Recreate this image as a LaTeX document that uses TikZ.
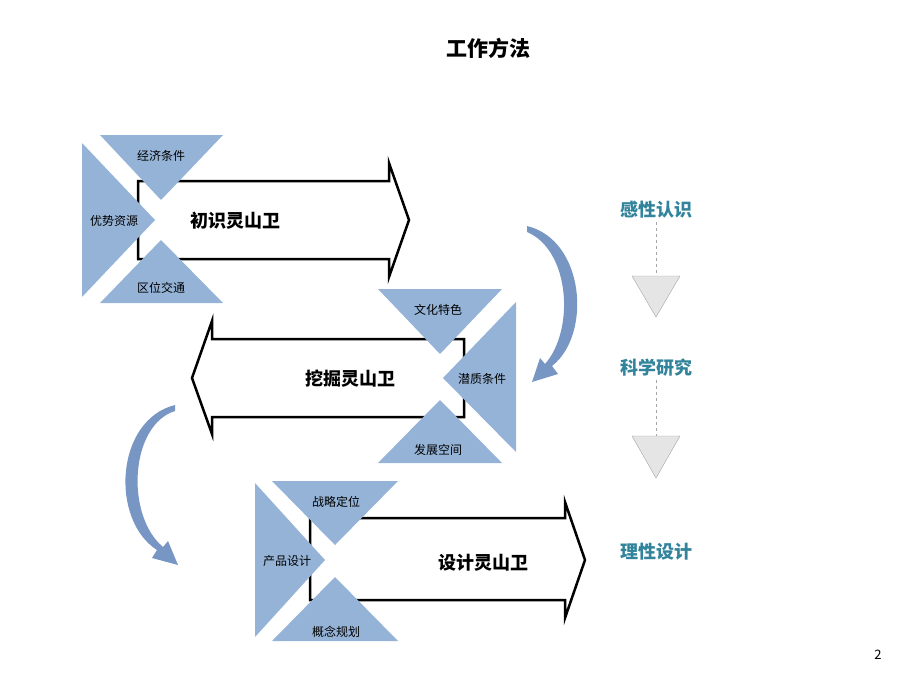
\documentclass[tikz,border=0pt]{standalone}
\usepackage{fontspec}
\setmainfont{Noto Sans CJK SC}
\definecolor{triblue}{RGB}{149,179,215}
\definecolor{tealtxt}{RGB}{49,132,155}
\definecolor{arrblue}{RGB}{120,150,195}
\tikzset{
  tri/.style={fill=triblue},
  fat/.style={draw=black, line width=2.5pt, fill=white, line join=miter},
  small/.style={font=\fontsize{12}{14}\selectfont, inner sep=0pt},
  big/.style={font=\fontsize{18}{21}\selectfont\bfseries},
  stage/.style={font=\fontsize{18}{21}\selectfont\bfseries, text=tealtxt},
  gtri/.style={fill=gray!20, draw=gray!70},
}
\begin{document}
\begin{tikzpicture}[x=1pt, y=-1pt]
    \useasboundingbox (0,0) rectangle (920,690);
    \node[font=\fontsize{21}{24}\selectfont\bfseries] (title) at (488,48) {工作方法};

    % first block
    \draw[fat] (138,181) -- (389,181) -- (389,163) -- (409,220) -- (389,277) -- (389,259) -- (138,259) -- cycle;
    \fill[tri] (82,143) -- (82,297) -- (155,220) -- cycle;
    \fill[tri] (100,135) -- (223,135) -- (161,200) -- cycle;
    \fill[tri] (100,303) -- (223,303) -- (161,240) -- cycle;
    \node[small] (a1) at (161,156) {经济条件};
    \node[small] (a2) at (114,221) {优势资源};
    \node[small] (a3) at (161,288) {区位交通};
    \node[big] (a0) at (235,221) {初识灵山卫};

    % second block
    \draw[fat] (464,339) -- (212,339) -- (212,321) -- (192,378) -- (212,434) -- (212,417) -- (464,417) -- cycle;
    \fill[tri] (516,302) -- (516,452) -- (443,378) -- cycle;
    \fill[tri] (378,289) -- (502,289) -- (440,354) -- cycle;
    \fill[tri] (378,463) -- (502,463) -- (440,400) -- cycle;
    \node[small] (b1) at (438,310) {文化特色};
    \node[small] (b2) at (482,379) {潜质条件};
    \node[small] (b3) at (438,450) {发展空间};
    \node[big] (b0) at (350,379) {挖掘灵山卫};

    % third block
    \draw[fat] (310,518) -- (565,518) -- (565,502) -- (585,560) -- (565,618) -- (565,600) -- (310,600) -- cycle;
    \fill[tri] (255,483) -- (255,637) -- (325,560) -- cycle;
    \fill[tri] (272,481) -- (398,481) -- (335,545) -- cycle;
    \fill[tri] (272,641) -- (398,641) -- (335,577) -- cycle;
    \node[small] (c1) at (336,502) {战略定位};
    \node[small] (c2) at (287,561) {产品设计};
    \node[small] (c3) at (336,632) {概念规划};
    \node[big] (c0) at (483,563) {设计灵山卫};

    % curved arrows
    \fill[arrblue] (527,226) .. controls (585,240) and (592,335) .. (552,366) -- (558,374) -- (532,382) -- (540,358) -- (545,364) .. controls (575,330) and (570,250) .. (527,232) -- cycle;
    \fill[arrblue] (175,405) .. controls (115,420) and (110,520) .. (157,550) -- (152,558) -- (178,565) -- (168,541) -- (163,547) .. controls (125,515) and (130,425) .. (175,411) -- cycle;

    % stages
    \node[stage] (s1) at (656,210) {感性认识};
    \node[stage] (s2) at (656,368) {科学研究};
    \node[stage] (s3) at (656,552) {理性设计};
    \coordinate (t1) at (656,276);
    \coordinate (t2) at (656,436);
    \draw[gray!70, dashed] (s1) -- (t1);
    \draw[gray!70, dashed] (s2) -- (t2);
    \draw[gtri] (632,276) -- (680,276) -- (656,317) -- cycle;
    \draw[gtri] (632,436) -- (680,436) -- (656,478) -- cycle;

    \node[font=\fontsize{13}{15}\selectfont] (pg) at (878,655) {2};
\end{tikzpicture}
\end{document}
